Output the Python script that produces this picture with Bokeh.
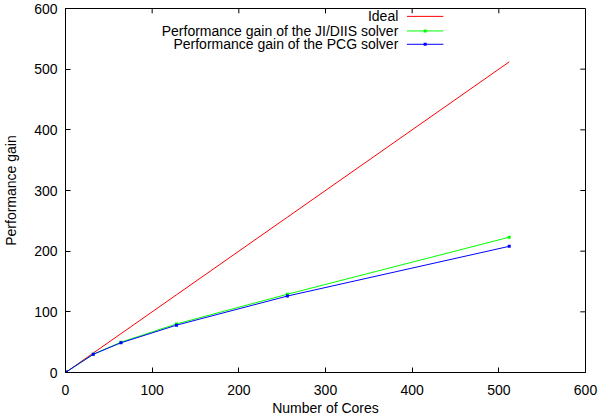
from bokeh.plotting import figure
from bokeh.models import Range1d, FixedTicker, Label, ColumnDataSource
from bokeh.embed import file_html
from bokeh.resources import INLINE

# ---- data ----
cores = [1, 32, 64, 128, 256, 512]
ideal = [1, 32, 64, 128, 256, 512]
gain_jidiis = [1, 30, 50, 80, 129, 223]
gain_pcg = [1, 30, 49, 78, 126, 208]
x_ticks = [0, 100, 200, 300, 400, 500, 600]
y_ticks = [0, 100, 200, 300, 400, 500, 600]
series_names = ["Ideal", "Performance gain of the JI/DIIS solver", "Performance gain of the PCG solver"]
series_colors = ["#ff0000", "#00ff00", "#0000ff"]

FONT = "Liberation Sans"
FS = "14px"
X_MAX = 600
Y_MAX = 600

p = figure(width=600, height=418, output_backend="svg", toolbar_location=None,
           x_range=Range1d(0, X_MAX), y_range=Range1d(0, Y_MAX),
           min_border_left=65, min_border_right=15, min_border_top=8, min_border_bottom=44)
p.xgrid.visible = False
p.ygrid.visible = False
p.outline_line_color = "black"
p.outline_line_alpha = 1
p.outline_line_width = 1
p.background_fill_color = "white"
p.border_fill_color = "white"

for ax, ticks in ((p.xaxis[0], x_ticks), (p.yaxis[0], y_ticks)):
    ax.ticker = FixedTicker(ticks=ticks)
    ax.major_tick_in = 5
    ax.major_tick_out = 0
    ax.minor_tick_line_color = None
    ax.major_tick_line_color = "black"
    ax.axis_line_color = "black"
    ax.major_label_text_font = FONT
    ax.major_label_text_font_size = FS
    ax.major_label_text_color = "black"
    ax.axis_label_text_font = FONT
    ax.axis_label_text_font_size = FS
    ax.axis_label_text_font_style = "normal"
    ax.axis_label_text_color = "black"

p.xaxis.axis_label = "Number of Cores"
p.yaxis.axis_label = "Performance gain"
p.xaxis.major_label_standoff = 12
p.xaxis.axis_label_standoff = 2
p.yaxis.major_label_standoff = 8
p.yaxis.axis_label_standoff = 12

# mirrored inward ticks on top and right (gnuplot style)
p.segment(x0=x_ticks, y0=[Y_MAX] * len(x_ticks), x1=x_ticks, y1=[Y_MAX - 8] * len(x_ticks),
          line_color="black", line_width=1)
p.segment(x0=[X_MAX] * len(y_ticks), y0=y_ticks, x1=[X_MAX - 6] * len(y_ticks), y1=y_ticks,
          line_color="black", line_width=1)

src = ColumnDataSource(dict(x=cores, ideal=ideal, ji=gain_jidiis, pcg=gain_pcg))
p.line("x", "ideal", source=src, line_color=series_colors[0], line_width=1)
p.line("x", "ji", source=src, line_color=series_colors[1], line_width=1)
p.scatter("x", "ji", source=src, marker="square", size=3, line_color=None, fill_color=series_colors[1])
p.line("x", "pcg", source=src, line_color=series_colors[2], line_width=1)
p.scatter("x", "pcg", source=src, marker="square", size=3, line_color=None, fill_color=series_colors[2])

# legend (gnuplot style: text right-aligned, sample to the right)
leg_y = [587, 563, 541]
for i, name in enumerate(series_names):
    p.add_layout(Label(x=384, y=leg_y[i], text=name, text_align="right", text_baseline="middle",
                       text_font=FONT, text_font_size=FS, text_color="black"))
    p.line([394, 436], [leg_y[i], leg_y[i]], line_color=series_colors[i], line_width=1)
    if i > 0:
        p.scatter([415], [leg_y[i]], marker="square", size=3, line_color=None, fill_color=series_colors[i])

open("out.html", "w").write(file_html(p, INLINE))
